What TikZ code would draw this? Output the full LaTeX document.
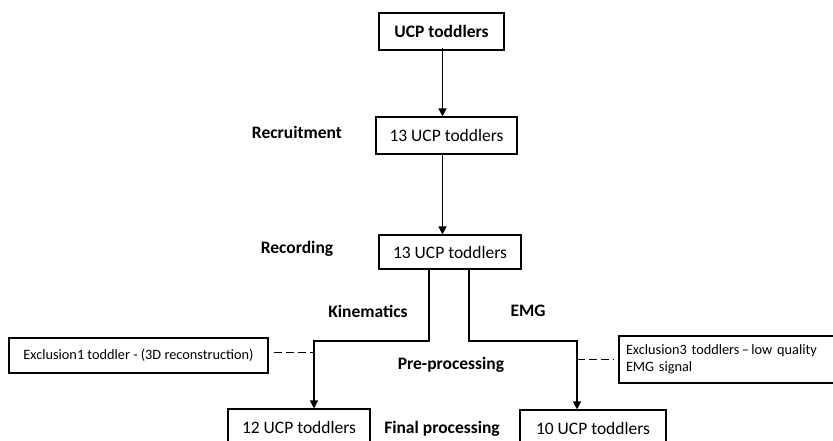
\documentclass[tikz,border=0pt]{standalone}
\usepackage{fontspec}
\setmainfont{Carlito}
\usetikzlibrary{arrows.meta}

\begin{document}
\begin{tikzpicture}[x=1pt,y=-1pt,
    box/.style={draw,line width=1.1pt,inner sep=0pt,font=\fontsize{17.5}{20}\selectfont},
    small/.style={font=\fontsize{14.3}{17}\selectfont},
    lbl/.style={font=\fontsize{17.5}{20}\selectfont\bfseries},
    arr/.style={line width=1.2pt,-{Triangle[length=8pt,width=8pt]}},
    dsh/.style={line width=1.6pt,dash pattern=on 8pt off 4pt}]
    \clip (0,0) rectangle (833,441);

    \node[box,minimum width=125pt,minimum height=37pt,font=\fontsize{17.5}{20}\selectfont\bfseries] (top) at (441.5,31.5) {UCP toddlers};
    \node[box,minimum width=141pt,minimum height=37pt] (rec) at (446.5,135.5) {13 UCP toddlers};
    \node[box,minimum width=142pt,minimum height=34pt] (recd) at (450,252) {13 UCP toddlers};
    \node[box,small,minimum width=259pt,minimum height=35pt] (ex1) at (138.5,355.5) {Exclusion1 toddler - (3D reconstruction)};
    \node[box,small,minimum width=226pt,minimum height=47pt,align=left,text width=212pt] (ex3) at (732,359.5) {Exclusion3 toddlers\,--\,low quality\\EMG signal};
    \node[box,minimum width=142pt,minimum height=36pt] (k12) at (299,427) {12 UCP toddlers};
    \node[box,minimum width=146pt,minimum height=36pt] (e10) at (593,428) {10 UCP toddlers};

    \node[lbl] (recruit) at (297,132) {Recruitment};
    \node[lbl] (record) at (297,249) {Recording};
    \node[lbl] (kinlbl) at (368,311) {Kinematics};
    \node[lbl] (emglbl) at (528,311) {EMG};
    \node[lbl] (prep) at (451,365) {Pre-processing};
    \node[lbl] (final) at (442,429) {Final processing};

    \coordinate (kin) at (314,341);
    \coordinate (emg) at (577,341);
    \coordinate (mid) at (442.5,0);

    \draw[arr] ([yshift=3pt]top.south -| mid) -- (rec.north -| mid);
    \draw[arr] (rec.south -| mid) -- (recd.north -| mid);
    \draw[arr] ([xshift=-21pt]recd.south) |- (kin) -- (kin |- k12.north);
    \draw[arr] ([xshift=19pt]recd.south) |- (emg) -- (emg |- e10.north);
    \draw[dsh] ([yshift=3pt]ex1.east) ++(5pt,0) -- ([yshift=3pt]ex1.east -| kin);
    \draw[dsh] (emg |- ex3.west) -- ([xshift=-4pt]ex3.west);
\end{tikzpicture}
\end{document}
